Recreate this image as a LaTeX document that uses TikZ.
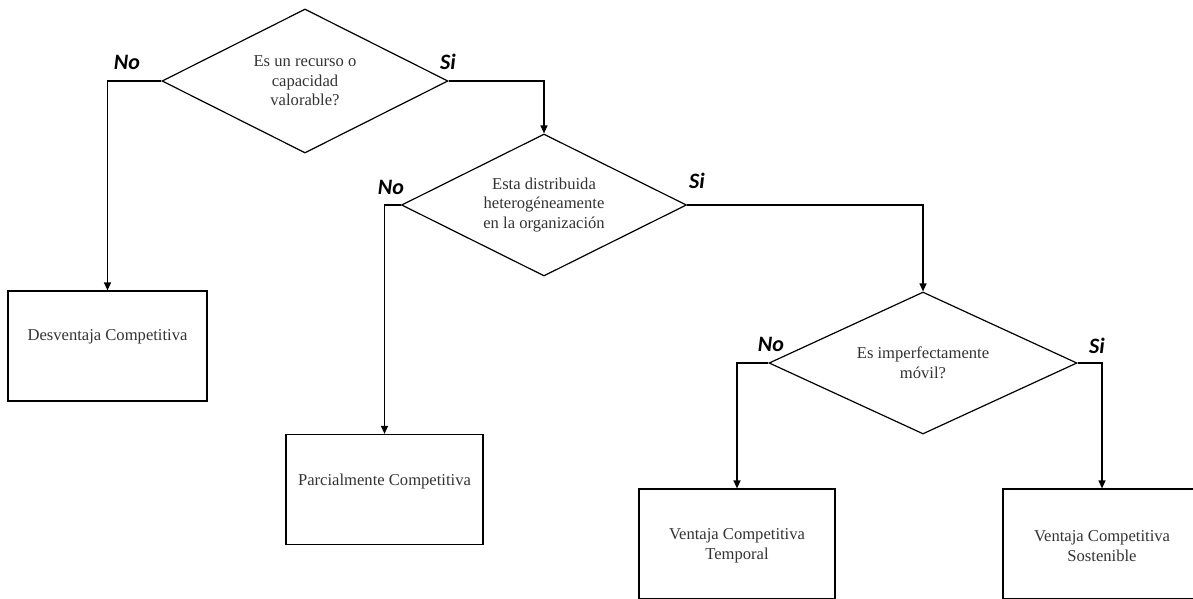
\documentclass[tikz,border=0pt]{standalone}
\usepackage{fontspec}
\setmainfont{Liberation Serif}
\newfontfamily\answerfont{Carlito}
\usetikzlibrary{shapes.geometric,arrows.meta}
\begin{document}
\begin{tikzpicture}[x=1pt,y=-1pt,
  line width=1.2pt,
  decision/.style={draw, diamond, inner sep=0pt, align=center,
    font=\fontsize{16.6}{19.5}\selectfont, text=black!80},
  outcome/.style={draw, rectangle, inner sep=0pt,
    minimum width=197pt, minimum height=110pt},
  outtext/.style={align=center, inner sep=0pt,
    font=\fontsize{16.6}{19.5}\selectfont, text=black!80},
  answer/.style={font=\answerfont\bfseries\itshape\fontsize{22}{26}\selectfont},
  flow/.style={-{Triangle[length=8pt,width=7pt]}}
]
\useasboundingbox (0,0) rectangle (1193,598);

% decisions
\node[decision, minimum width=286pt, minimum height=144pt, aspect=2]
  (q1) at (305,81) {Es un recurso o\\capacidad\\valorable?};
\node[decision, minimum width=285pt, minimum height=142pt, aspect=2]
  (q2) at (544,205) {Esta distribuida\\heterogéneamente\\en la organización};
\node[decision, minimum width=308pt, minimum height=142pt, aspect=2.17]
  (q3) at (923,363) {Es imperfectamente\\móvil?};

% outcomes
\node[outcome, minimum width=199pt,
  label={[outtext, yshift=9pt]center:Desventaja Competitiva}]
  (b1) at (107.5,346) {};
\node[outcome,
  label={[outtext, yshift=8.5pt]center:Parcialmente Competitiva}]
  (b2) at (384.5,489.5) {};
\node[outcome, minimum width=196pt,
  label={[outtext, yshift=-2pt]center:Ventaja Competitiva\\Temporal}]
  (b3) at (737,544) {};
\node[outcome, minimum width=198pt,
  label={[outtext, yshift=-2pt]center:Ventaja Competitiva\\Sostenible}]
  (b4) at (1102,544) {};

% answers
\node[answer] (no1) at (127,62) {No};
\node[answer] (si1) at (448,62) {Si};
\node[answer] (no2) at (391,187) {No};
\node[answer] (si2) at (697,181) {Si};
\node[answer] (no3) at (771,344) {No};
\node[answer] (si3) at (1097,346) {Si};

% connectors
\draw[flow] (q1.west) -| (b1.north);
\draw[flow] (q1.east) -| (q2.north);
\draw[flow] (q2.west) -| (b2.north);
\draw[flow] (q2.east) -| (q3.north);
\draw[flow] (q3.west) -| (b3.north);
\draw[flow] (q3.east) -| (b4.north);
\end{tikzpicture}
\end{document}
